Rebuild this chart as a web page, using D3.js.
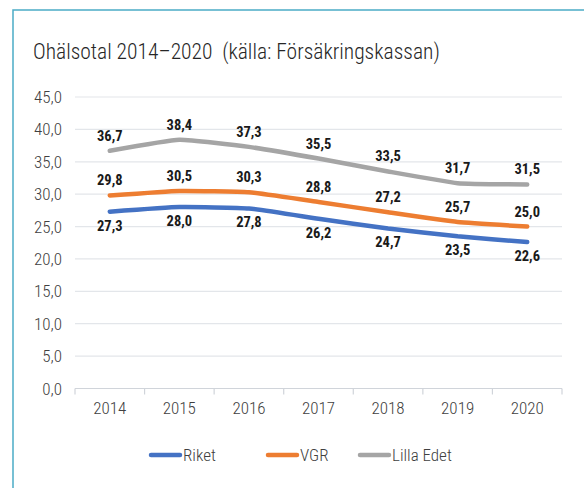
<!DOCTYPE html>
<html>
<head>
<meta charset="utf-8">
<script src="https://cdn.jsdelivr.net/npm/d3@7"></script>
<style>
  body { margin: 0; background: #fff; }
  svg { font-family: "Roboto Condensed", "Liberation Sans Narrow", "DejaVu Sans Condensed", sans-serif; }
</style>
</head>
<body>
<div id="chart"></div>
<script>
var years    = ["2014", "2015", "2016", "2017", "2018", "2019", "2020"];
var riket    = [27.3, 28.0, 27.8, 26.2, 24.7, 23.5, 22.6];
var vgr      = [29.8, 30.5, 30.3, 28.8, 27.2, 25.7, 25.0];
var lillaEdet = [36.7, 38.4, 37.3, 35.5, 33.5, 31.7, 31.5];
var yTicks   = [0, 5, 10, 15, 20, 25, 30, 35, 40, 45];

var seriesNames  = ["Riket", "VGR", "Lilla Edet"];
var seriesColors = ["#4472C4", "#ED7D31", "#A5A5A5"];
var seriesData   = [riket, vgr, lillaEdet];
var labelOffsets = [19, -10, -10];  // blue below, others above

var width = 584, height = 488;
var margin = {left: 75, right: 22, top: 97, bottom: 100};

var svg = d3.select("#chart").append("svg").attr("width", width).attr("height", height);

// frame
svg.append("rect").attr("x", 13).attr("y", 10).attr("width", 590).attr("height", 490)
   .attr("fill", "none").attr("stroke", "#4BACC6").attr("stroke-width", 1.5);

svg.append("text").attr("x", 33).attr("y", 59).attr("font-size", 21.5).attr("font-weight", 300).attr("fill", "#262626")
   .style("white-space", "pre")
   .text("Ohälsotal 2014–2020  (källa: Försäkringskassan)");

var x = d3.scaleBand().domain(years).range([margin.left, 562]);
var y = d3.scaleLinear().domain([0, 45]).range([388.5, margin.top]);

var fmt = function(v){ return d3.format(".1f")(v).replace(".", ","); };

// gridlines
svg.append("g").selectAll("line").data(yTicks).enter().append("line")
   .attr("x1", x.range()[0]).attr("x2", x.range()[1])
   .attr("y1", function(d){return y(d);}).attr("y2", function(d){return y(d);})
   .attr("stroke", function(d){return d === 0 ? "#D0D4DA" : "#E3E6EA";}).attr("stroke-width", 1.2);

// y labels
svg.append("g").selectAll("text").data(yTicks).enter().append("text")
   .attr("x", 62).attr("y", function(d){return y(d) + 6;})
   .attr("text-anchor", "end").attr("font-size", 17).attr("font-weight", 300).attr("fill", "#404040")
   .text(fmt);

// x axis ticks
var boundaries = years.map(function(d){return x(d);}).concat([x.range()[1]]);
svg.append("g").selectAll("line").data(boundaries).enter().append("line")
   .attr("x1", function(d){return d;}).attr("x2", function(d){return d;})
   .attr("y1", y(0)).attr("y2", y(0) + 6)
   .attr("stroke", "#D0D4DA").attr("stroke-width", 1.2);

svg.append("g").selectAll("text").data(years).enter().append("text")
   .attr("x", function(d){return x(d) + x.bandwidth()/2;}).attr("y", 414)
   .attr("text-anchor", "middle").attr("font-size", 17).attr("font-weight", 300).attr("fill", "#404040")
   .text(function(d){return d;});

var line = d3.line()
   .x(function(d, i){return x(years[i]) + x.bandwidth()/2;})
   .y(function(d){return y(d);})
   .curve(d3.curveCardinal.tension(0.6));

for (var s = 0; s < seriesData.length; s++) {
    svg.append("path").attr("d", line(seriesData[s])).attr("fill", "none")
       .attr("stroke", seriesColors[s]).attr("stroke-width", 4.5).attr("stroke-linecap", "round");
}

for (var s = 0; s < seriesData.length; s++) {
    var off = labelOffsets[s];
    svg.append("g").selectAll("text").data(seriesData[s]).enter().append("text")
       .attr("x", function(d, i){return x(years[i]) + x.bandwidth()/2;})
       .attr("y", function(d){return y(d) + off;})
       .attr("text-anchor", "middle").attr("font-size", 14.5).attr("font-weight", "bold").attr("fill", "#1a1a1a")
       .text(fmt);
}

// legend
var legendX = [151, 268, 360];
var legend = svg.append("g").selectAll("g").data(seriesNames).enter().append("g");
legend.append("line")
   .attr("x1", function(d, i){return legendX[i];}).attr("x2", function(d, i){return legendX[i] + 29;})
   .attr("y1", 455).attr("y2", 455)
   .attr("stroke", function(d, i){return seriesColors[i];}).attr("stroke-width", 4.5).attr("stroke-linecap", "round");
legend.append("text")
   .attr("x", function(d, i){return legendX[i] + 32;}).attr("y", 461)
   .attr("font-size", 17).attr("font-weight", 300).attr("fill", "#404040")
   .text(function(d){return d;});
</script>
</body>
</html>
